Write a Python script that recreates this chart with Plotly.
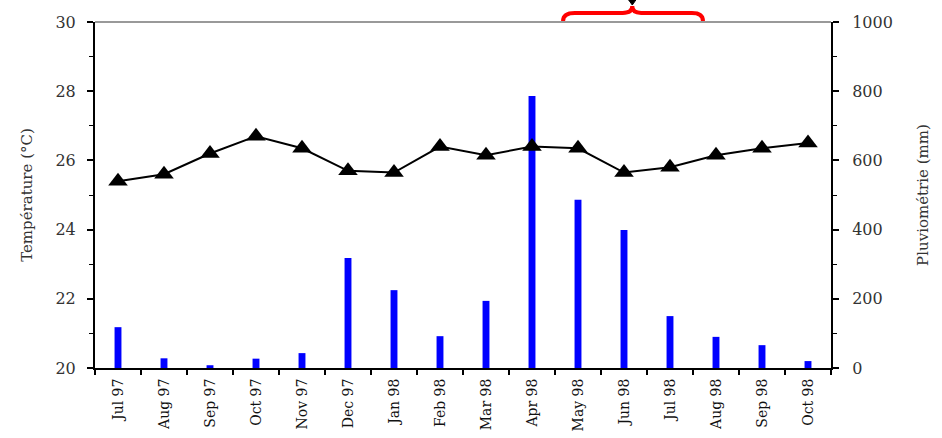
import plotly.graph_objects as go

months = ["Jul 97", "Aug 97", "Sep 97", "Oct 97", "Nov 97", "Dec 97", "Jan 98", "Feb 98",
          "Mar 98", "Apr 98", "May 98", "Jun 98", "Jul 98", "Aug 98", "Sep 98", "Oct 98"]
temperature = [25.4, 25.6, 26.2, 26.7, 26.35, 25.7, 25.65, 26.4,
               26.15, 26.4, 26.35, 25.65, 25.8, 26.15, 26.35, 26.5]
rainfall = [118, 28, 8, 27, 43, 318, 225, 92,
            194, 786, 486, 399, 150, 90, 66, 20]

left_ticks = [20, 22, 24, 26, 28, 30]
right_ticks = [0, 200, 400, 600, 800, 1000]

SERIF = "DejaVu Serif"

fig = go.Figure()
fig.add_trace(go.Bar(x=months, y=rainfall, yaxis="y", marker=dict(color="#0000FF", line=dict(width=0)),
                     width=0.15, name="Pluviométrie"))
fig.add_trace(go.Scatter(x=months, y=temperature, yaxis="y2", mode="lines+markers",
                         line=dict(color="black", width=2),
                         marker=dict(symbol="triangle-up", size=17, color="black"),
                         name="Température"))

fig.update_layout(
    width=942, height=438,
    margin=dict(l=95, r=111, t=22, b=70, autoexpand=False),
    paper_bgcolor="white", plot_bgcolor="white",
    showlegend=False,
    xaxis=dict(type="category", range=[-0.5, 15.5], tickangle=-90, automargin=False,
               tickson="boundaries", ticks="outside", ticklen=5, tickwidth=2, tickcolor="black",
               showline=True, linecolor="black", linewidth=2, showgrid=False,
               tickfont=dict(family=SERIF, size=14, color="#111"), ticklabelstandoff=3),
    yaxis=dict(side="right", range=[0, 1000], tickvals=right_ticks, automargin=False,
               ticks="outside", ticklen=6, tickwidth=2, tickcolor="black",
               minor=dict(ticks="outside", ticklen=4, dtick=100, tickcolor="black", tickwidth=1, showgrid=False),
               showline=True, linecolor="black", linewidth=2, showgrid=False, zeroline=False,
               tickfont=dict(family=SERIF, size=16, color="#333"), ticklabelstandoff=10,
               title=dict(text="Pluviométrie (mm)", font=dict(family=SERIF, size=15, color="#333"), standoff=26)),
    yaxis2=dict(side="left", overlaying="y", range=[20, 30], tickvals=left_ticks, automargin=False,
                ticks="outside", ticklen=6, tickwidth=2, tickcolor="black",
                minor=dict(ticks="outside", ticklen=4, dtick=1, tickcolor="black", tickwidth=1, showgrid=False),
                showline=True, linecolor="black", linewidth=2, showgrid=False, zeroline=False,
                tickfont=dict(family=SERIF, size=16, color="#333"), ticklabelstandoff=8,
                title=dict(text="Température (°C)", font=dict(family=SERIF, size=15, color="#333"), standoff=19)),
    shapes=[
        dict(type="line", xref="paper", yref="paper", x0=0, x1=1, y0=1, y1=1,
             line=dict(color="#999", width=2)),
        dict(type="path", xref="paper", yref="paper",
             path="M 0.636 1.003 Q 0.636 1.026 0.652 1.026 L 0.717 1.026 Q 0.730 1.026 0.730 1.046 "
                  "Q 0.730 1.026 0.742 1.026 L 0.811 1.026 Q 0.826 1.026 0.826 1.003",
             line=dict(color="red", width=4)),
        dict(type="path", xref="paper", yref="paper",
             path="M 0.725 1.064 L 0.735 1.064 L 0.730 1.049 Z",
             fillcolor="black", line=dict(color="black", width=1)),
    ],
)

fig.write_html("out.html", config={"displayModeBar": False},
               post_script="document.body.style.margin='0';document.body.style.overflow='hidden';")
